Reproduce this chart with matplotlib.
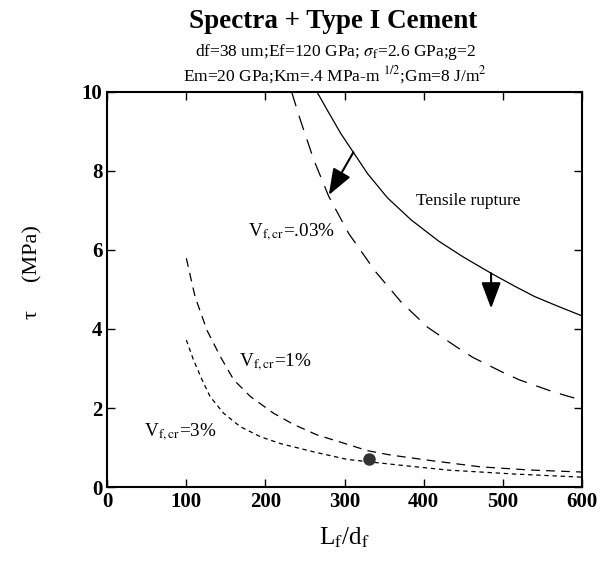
import matplotlib
matplotlib.use("Agg")
import matplotlib.pyplot as plt

plt.rcParams['font.family'] = ['Liberation Serif', 'DejaVu Serif']
plt.rcParams['mathtext.fontset'] = 'stix'

# Data
rupture_x = [265, 278, 295, 311, 329, 354, 384, 419, 450, 485, 515, 540, 570, 600]
rupture_y = [10.0, 9.54, 8.95, 8.47, 7.93, 7.32, 6.76, 6.22, 5.82, 5.41, 5.08, 4.82, 4.57, 4.33]

v003_x = [233, 244, 261, 280, 305, 339, 371, 384, 405, 441, 462, 498, 521, 559, 580, 600]
v003_y = [10.0, 9.29, 8.28, 7.35, 6.42, 5.45, 4.69, 4.44, 4.04, 3.55, 3.28, 2.92, 2.71, 2.44, 2.31, 2.2]

v1_x = [100, 111, 126, 143, 160, 181, 210, 235, 265, 299, 329, 358, 409, 472, 535, 600]
v1_y = [5.79, 4.82, 3.97, 3.30, 2.71, 2.29, 1.87, 1.59, 1.32, 1.11, 0.92, 0.81, 0.67, 0.51, 0.43, 0.38]

v3_x = [100, 109, 120, 130, 147, 168, 194, 219, 261, 303, 367, 430, 514, 600]
v3_y = [3.72, 3.22, 2.71, 2.29, 1.87, 1.53, 1.27, 1.10, 0.89, 0.70, 0.56, 0.43, 0.33, 0.25]

point_x = [331]
point_y = [0.70]

xticks = [0, 100, 200, 300, 400, 500, 600]
yticks = [0, 2, 4, 6, 8, 10]

fig = plt.figure(figsize=(6.02, 5.67), dpi=100)
ax = fig.add_axes([0.178, 0.141, 0.789, 0.697])

ax.plot(rupture_x, rupture_y, color='black', lw=0.9, ls='-')
ax.plot(v003_x, v003_y, color='black', lw=0.9, ls=(0, (12, 8)))
ax.plot(v1_x, v1_y, color='black', lw=0.9, ls=(0, (7, 5)))
ax.plot(v3_x, v3_y, color='black', lw=0.9, ls=(0, (3.5, 3)))
ax.plot(point_x, point_y, 'o', color='#333333', ms=8)

ax.annotate('', xy=(280, 7.39), xytext=(311, 8.47),
            arrowprops=dict(arrowstyle='-|>,head_length=0.8,head_width=0.3', color='black', lw=1.5,
                            mutation_scale=20, shrinkA=0, shrinkB=0))
ax.annotate('', xy=(485, 4.52), xytext=(485, 5.41),
            arrowprops=dict(arrowstyle='-|>,head_length=0.8,head_width=0.3', color='black', lw=1.5,
                            mutation_scale=20, shrinkA=0, shrinkB=0))

ax.text(390, 7.24, 'Tensile rupture', fontsize=12.5, va='center', ha='left')
ax.text(178, 6.45, r'V$_{\mathrm{f,cr}}$=.03%', fontsize=13.8, va='center', ha='left')
ax.text(166, 3.16, r'V$_{\mathrm{f,cr}}$=1%', fontsize=13.8, va='center', ha='left')
ax.text(46, 1.39, r'V$_{\mathrm{f,cr}}$=3%', fontsize=13.8, va='center', ha='left')

ax.set_xlim(0, 600)
ax.set_ylim(0, 10)
ax.set_xticks(xticks)
ax.set_yticks(yticks)
ax.tick_params(direction='in', top=True, right=True, labelsize=15, length=6, width=1)
for lab in ax.get_xticklabels() + ax.get_yticklabels():
    lab.set_fontweight('bold')
for s in ax.spines.values():
    s.set_linewidth(1.5)

ax.set_xlabel(r'L$_{\mathrm{f}}$/d$_{\mathrm{f}}$', fontsize=18)
ax.xaxis.set_label_coords(0.5, -0.098)
ax.set_ylabel('τ     (MPa)', fontsize=16)
ax.yaxis.set_label_coords(-0.137, 0.545)

fig.text(0.553, 0.962, 'Spectra + Type I Cement', fontsize=19.5, fontweight='bold',
         ha='center', va='center')
fig.text(0.558, 0.908, r'df=38 um;Ef=120 GPa; $\sigma_{\mathrm{f}}$=2.6 GPa;g=2',
         fontsize=12.5, ha='center', va='center')
fig.text(0.557, 0.868, r'Em=20 GPa;Km=.4 MPa-m $^{1/2}$;Gm=8 J/m$^{2}$',
         fontsize=12.5, ha='center', va='center')

fig.savefig('out.png', dpi=100)
